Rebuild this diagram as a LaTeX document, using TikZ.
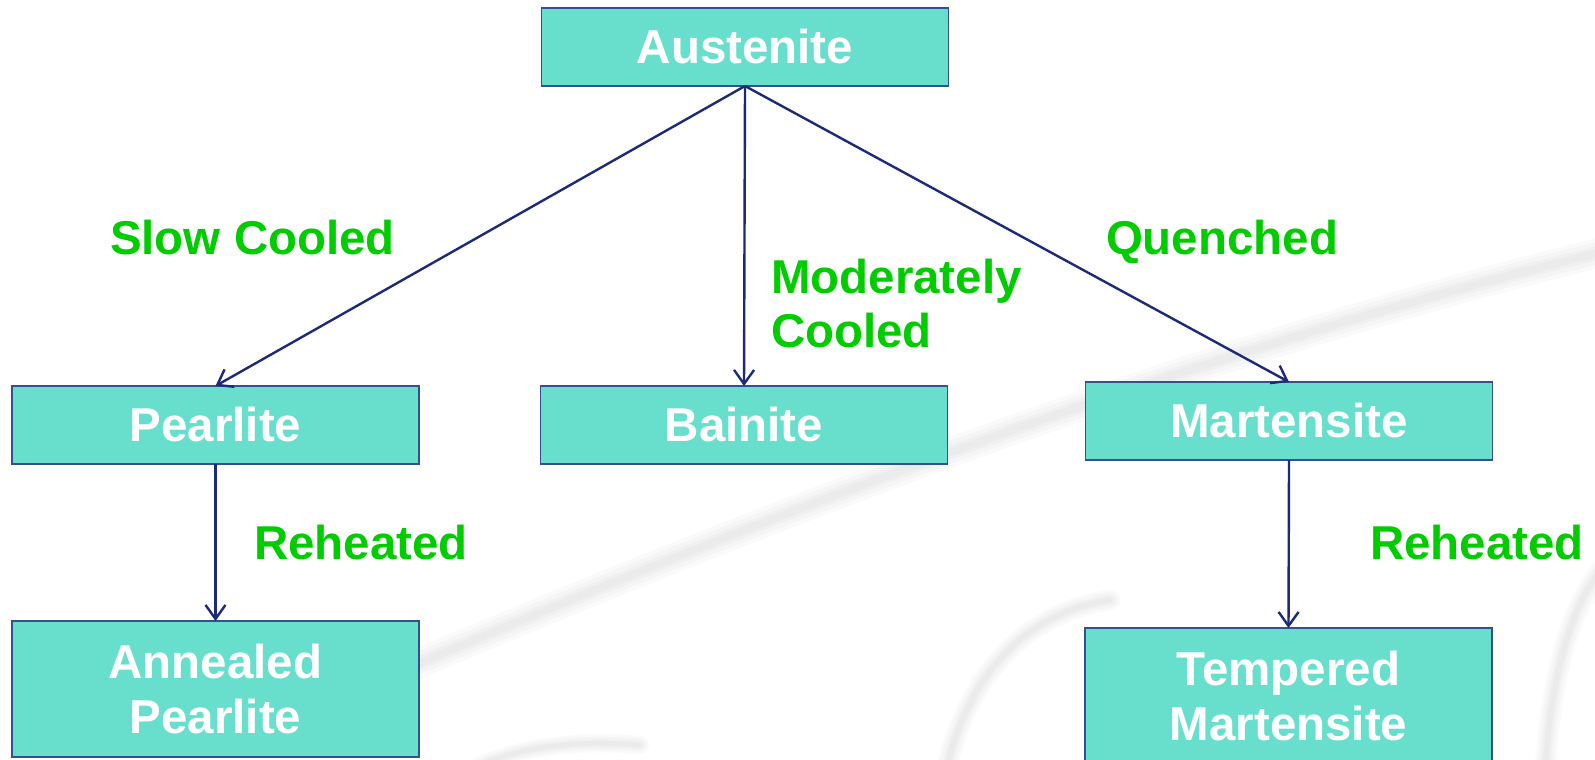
\documentclass[tikz,border=0pt]{standalone}
\usepackage{fontspec}
\setmainfont{Liberation Sans}
\usetikzlibrary{arrows.meta}
\definecolor{boxfill}{HTML}{68DFCD}
\definecolor{boxdraw}{HTML}{34508F}
\definecolor{arrowcol}{HTML}{1C2A78}
\definecolor{labgreen}{HTML}{00CC00}
\tikzset{
  phase/.style={rectangle, draw=boxdraw, line width=1.5pt, fill=boxfill, text=white,
    font=\fontsize{47.5}{55}\selectfont\bfseries, align=center, inner sep=0pt, outer sep=0pt,
    minimum width=407pt},
  trans/.style={text=labgreen, font=\fontsize{47.5}{54}\selectfont\bfseries, align=left,
    inner sep=0pt, outer sep=0pt},
  flow/.style={draw=arrowcol, line width=2.4pt, -{Straight Barb[length=14pt,width=20pt,line width=2.4pt]}},
  bgline/.style={draw=black, line cap=round, opacity=0.018, line width=#1},
  bgline/.default=20pt
}
\begin{document}
\begin{tikzpicture}[x=1pt,y=-1pt]
\useasboundingbox (0,0) rectangle (1595,760);
\fill[white] (0,0) rectangle (1595,760);
% faint background swooshes
\foreach \w in {30,22,14,8}{
  \draw[bgline=\w pt] (380,680) .. controls (800,500) and (1200,350) .. (1610,250);
  \draw[bgline=0.7*\w pt] (945,775) .. controls (970,660) and (1040,610) .. (1110,600);
  \draw[bgline=0.7*\w pt] (1545,775) .. controls (1550,680) and (1570,600) .. (1610,560);
  \draw[bgline=0.6*\w pt] (470,770) .. controls (520,745) and (580,740) .. (640,745);
}
% boxes
\node[phase, minimum height=78pt] (aus) at (745,47) {Austenite};
\node[phase, minimum height=78pt] (pea) at (215.5,425) {Pearlite};
\node[phase, minimum height=78pt] (bai) at (744,425) {Bainite};
\node[phase, minimum height=78pt] (mar) at (1289,421) {Martensite};
\node[phase, minimum height=136pt] (ann) at (215.5,689) {Annealed\\Pearlite};
\node[phase, minimum height=136pt] (tem) at (1288.5,696) {Tempered\\Martensite};
% connectors
\draw[flow] (aus.south) -- (pea.north);
\draw[flow] (aus.south) -- (bai.north);
\draw[flow] (aus.south) -- (mar.north);
\draw[flow] (pea.south) -- (ann.north);
\draw[flow] (mar.south) -- (tem.north);
% labels
\node[trans, anchor=base west] (l1) at (110,254) {Slow Cooled};
\node[trans, anchor=base west] (l2) at (771,347) {Moderately\\Cooled};
\node[trans, anchor=base west] (l3) at (1106,254) {Quenched};
\node[trans, anchor=base west] (l4) at (254,559) {Reheated};
\node[trans, anchor=base west] (l5) at (1370,559) {Reheated};
\end{tikzpicture}
\end{document}
